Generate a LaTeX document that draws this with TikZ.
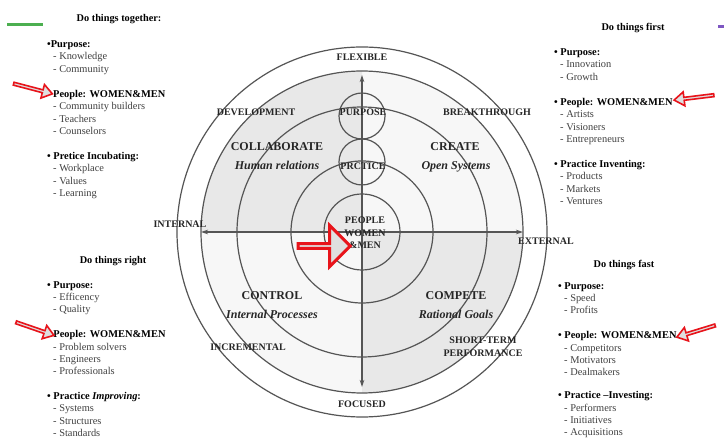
\documentclass[tikz,border=0pt]{standalone}
\usepackage{fontspec}
\setmainfont{Liberation Serif}
\usetikzlibrary{arrows.meta, positioning, shapes.arrows}
\definecolor{ringgray}{HTML}{555555}
\definecolor{qdark}{HTML}{E8E8E8}
\definecolor{qlight}{HTML}{F7F7F7}
\definecolor{tagred}{HTML}{E8141B}
\definecolor{bargreen}{HTML}{4CAF50}
\definecolor{barviolet}{HTML}{7E57C2}
\newcommand{\hd}[1]{{\color{black}\bfseries #1}}
\newcommand{\ind}{\hspace*{6pt}}

\begin{document}
\begin{tikzpicture}[
    x=1pt, y=1pt,
    >={Stealth[length=7pt,width=4.5pt]},
    ring/.style    ={draw=ringgray, line width=1.2pt},
    hub/.style     ={draw=ringgray, line width=1.2pt, circle, minimum size=46pt,
                     inner sep=0pt},
    axisline/.style={<->, draw=ringgray, line width=1.2pt},
    lab/.style     ={font=\fontsize{10}{12.5}\selectfont\bfseries, anchor=base,
                     inner sep=0pt, text=black!85, align=center},
    quadname/.style={font=\fontsize{12}{14}\selectfont\bfseries, anchor=base,
                     inner sep=0pt, text=black!85},
    quadsub/.style ={font=\fontsize{12}{14}\selectfont\bfseries\itshape, anchor=base,
                     inner sep=0pt, text=black!85},
    heading/.style ={font=\fontsize{10.3}{12}\selectfont\bfseries, anchor=base,
                     inner sep=0pt},
    listing/.style ={font=\fontsize{10.4}{12.4}\selectfont, anchor=north west,
                     inner sep=0pt, align=left, text=black!75},
    pointer/.style ={single arrow, draw=tagred, fill=gray!25, line width=1.6pt,
                     inner sep=0pt, single arrow head extend=3pt,
                     single arrow tip angle=70, minimum height=40pt, minimum width=14pt},
    bigpointer/.style={single arrow, draw=tagred, fill=gray!25, line width=3pt,
                     inner sep=0pt, single arrow head extend=12pt,
                     single arrow tip angle=90, minimum height=52pt, minimum width=41pt},
]
\fill[white] (0,0) rectangle (724,439);
\useasboundingbox (0,0) rectangle (724,439);

\coordinate (c) at (362,207);
% quadrant shading inside the second ring
\fill[qlight] (c) circle[radius=161pt];
\fill[qdark] (c) -- ++(-161,0) arc[start angle=180, end angle=90, radius=161pt] -- cycle;
\fill[qdark] (c) -- ++(161,0) arc[start angle=0, end angle=-90, radius=161pt] -- cycle;

\draw[ring] (c) circle[radius=185pt];
\draw[ring] (c) circle[radius=161pt];
\draw[ring] (c) circle[radius=125pt];
\draw[ring] (c) circle[radius=71pt];
\draw[ring] (c) circle[radius=38pt];

\coordinate (west)  at (201,207);
\coordinate (east)  at (523,207);
\coordinate (north) at (362,364);
\coordinate (south) at (362,52);
\draw[axisline] (west) -- (east);
\draw[axisline] (north) -- (south);

\node[hub] (purpose) at (362,323) {};
\node[hub] (practice) at (362,277) {};

\node[lab] (flexible) at (362,378.5) {FLEXIBLE};
\node[lab] (focused)  at (362,31.5)  {FOCUSED};
\node[lab] (internal) at (180,211.5) {INTERNAL};
\node[lab] (external) at (546,194.5) {EXTERNAL};
\node[lab] (develop)  at (256,323.5) {DEVELOPMENT};
\node[lab] (breakthr) at (487,323.5) {BREAKTHROUGH};
\node[lab] (incremnt) at (248,88.5)  {INCREMENTAL};
\node[lab, anchor=center] (shortterm) at (483,92.5) {SHORT-TERM\\PERFORMANCE};
\node[lab] (purposetx)  at (363,323.5) {PURPOSE};
\node[lab] (practicetx) at (363,269.5) {PRCTICE};
\node[lab, anchor=center] (people) at (365,206) {PEOPLE\\WOMEN\\\&MEN};

\node[quadname] (collab)  at (277,288) {COLLABORATE};
\node[quadsub]  (human)   at (277,269) {Human relations};
\node[quadname] (create)  at (455,288) {CREATE};
\node[quadsub]  (opensys) at (456,269) {Open Systems};
\node[quadname] (control) at (272,139) {CONTROL};
\node[quadsub]  (intproc) at (272,120) {Internal Processes};
\node[quadname] (compete) at (456,139) {COMPETE};
\node[quadsub]  (ratgoal) at (456,120) {Rational Goals};

% the four side lists
\node[heading] (together) at (119,417.5) {Do things together:};
\node[listing] (listtl) at (47,398.5) {\hd{•Purpose:}\\
  \ind- Knowledge\\
  \ind- Community\\[12.5pt]
  \ind\hd{People: WOMEN\&MEN}\\
  \ind- Community builders\\
  \ind- Teachers\\
  \ind- Counselors\\[12.5pt]
  \hd{• Pretice Incubating:}\\
  \ind- Workplace\\
  \ind- Values\\
  \ind- Learning};

\node[heading] (first) at (633,408.5) {Do things first};
\node[listing] (listtr) at (554,390.5) {\hd{• Purpose:}\\
  \ind- Innovation\\
  \ind- Growth\\[12.5pt]
  \hd{• People: WOMEN\&MEN}\\
  \ind- Artists\\
  \ind- Visioners\\
  \ind- Entrepreneurs\\[12.5pt]
  \hd{• Practice Inventing:}\\
  \ind- Products\\
  \ind- Markets\\
  \ind- Ventures};

\node[heading] (right) at (113,175) {Do things right};
\node[listing] (listbl) at (47,158) {\hd{• Purpose:}\\
  \ind- Efficency\\
  \ind- Quality\\[12.4pt]
  \hd{• People: WOMEN\&MEN}\\
  \ind- Problem solvers\\
  \ind- Engineers\\
  \ind- Professionals\\[12pt]
  \hd{• Practice \textit{Improving}:}\\
  \ind- Systems\\
  \ind- Structures\\
  \ind- Standards};

\node[heading] (fast) at (624,171.5) {Do things fast};
\node[listing] (listbr) at (558,157) {\hd{• Purpose:}\\
  \ind- Speed\\
  \ind- Profits\\[12.4pt]
  \hd{• People: WOMEN\&MEN}\\
  \ind- Competitors\\
  \ind- Motivators\\
  \ind- Dealmakers\\[10.5pt]
  \hd{• Practice –Investing:}\\
  \ind- Performers\\
  \ind- Initiatives\\
  \ind- Acquisitions};

% red pointers
\node[pointer, rotate=-14.7] (tagtl) at (32,350.5) {};
\node[pointer, rotate=187]   (tagtr) at (695,341.5) {};
\node[pointer, rotate=-19]   (tagbl) at (34,110.5) {};
\node[pointer, rotate=197]   (tagbr) at (697,108) {};
\node[bigpointer] (tagc) at (323,193) {};

\draw[bargreen, line width=3pt] (7,414) -- (43,414);
\draw[barviolet, line width=3pt] (718,412) -- (724,412);
\end{tikzpicture}
\end{document}
